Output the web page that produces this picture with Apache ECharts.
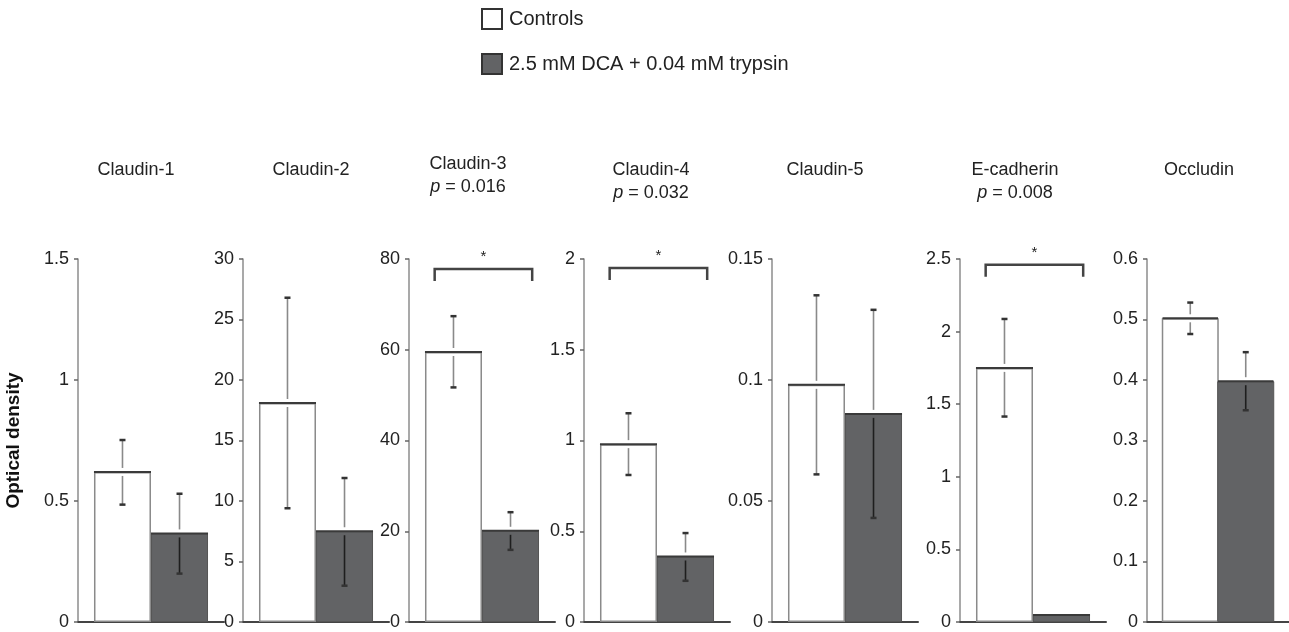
<!DOCTYPE html>
<html><head><meta charset="utf-8">
<script src="https://cdn.jsdelivr.net/npm/echarts@6/dist/echarts.min.js"></script>
<style>html,body{margin:0;padding:0;background:#fff}#c{width:1289px;height:632px}</style>
</head><body><div id="c"></div>
<script>
// ---- data ----
const categories = ['Claudin-1', 'Claudin-2', 'Claudin-3', 'Claudin-4', 'Claudin-5', 'E-cadherin', 'Occludin'];
const pValues = ['', '', '0.016', '0.032', '', '0.008', ''];
const seriesNames = ['Controls', '2.5 mM DCA + 0.04 mM trypsin'];
const controlMeans = [0.62, 18.1, 59.5, 0.98, 0.098, 1.75, 0.502];
const controlLow = [0.485, 9.4, 51.7, 0.81, 0.061, 1.415, 0.476];
const controlHigh = [0.752, 26.8, 67.4, 1.15, 0.135, 2.087, 0.528];
const treatMeans = [0.366, 7.5, 20.1, 0.361, 0.086, 0.048, 0.398];
const treatLow = [0.20, 3.0, 15.9, 0.227, 0.043, null, 0.35];
const treatHigh = [0.53, 11.9, 24.2, 0.49, 0.129, null, 0.446];
const yMax = [1.5, 30, 80, 2, 0.15, 2.5, 0.6];
const yInterval = [0.5, 5, 20, 0.5, 0.05, 0.5, 0.1];
const bracketLevel = [null, null, 77.8, 1.95, null, 2.46, null];

// ---- layout / style ----
const FONT = '"Liberation Sans", Arial, Helvetica, sans-serif';
const gridLeft = [78, 243, 409, 584, 772, 960, 1147];
const titleX = [136, 311, 468, 651, 825, 1015, 1199];
const titleY = [170, 170, 164, 170, 170, 170, 170];

function errRender(params, api) {
  const x = api.value(0), m = api.value(1), lo = api.value(2), hi = api.value(3);
  const pm = api.coord([x, m]);
  const l = api.coord([x - 0.5, m]), r = api.coord([x + 0.5, m]);
  const children = [{type: 'line', shape: {x1: l[0], y1: pm[1], x2: r[0], y2: pm[1]}, style: {stroke: '#3a3a3a', lineWidth: 2}}];
  if (lo != null && hi != null && !isNaN(lo) && !isNaN(hi)) {
    const ph = api.coord([x, hi]), pl = api.coord([x, lo]);
    const gap = 4;
    children.push({type: 'line', shape: {x1: ph[0], y1: ph[1], x2: ph[0], y2: pm[1] - gap}, style: {stroke: '#8a8a8a', lineWidth: 1.6}});
    children.push({type: 'line', shape: {x1: pl[0], y1: pm[1] + gap, x2: pl[0], y2: pl[1]}, style: {stroke: x < 0.5 ? '#8a8a8a' : '#1e1e1e', lineWidth: 1.6}});
    children.push({type: 'line', shape: {x1: ph[0] - 3, y1: ph[1], x2: ph[0] + 3, y2: ph[1]}, style: {stroke: '#333', lineWidth: 2.5}});
    children.push({type: 'line', shape: {x1: pl[0] - 3, y1: pl[1], x2: pl[0] + 3, y2: pl[1]}, style: {stroke: '#333', lineWidth: 2.5}});
  }
  return {type: 'group', children};
}

function bracketRender(params, api) {
  const y = api.value(1);
  const a = api.coord([-0.33, y]), b = api.coord([1.38, y]);
  const drop = 12;
  return {type: 'group', children: [
    {type: 'polyline', shape: {points: [[a[0], a[1] + drop], [a[0], a[1]], [b[0], b[1]], [b[0], b[1] + drop]]},
     style: {stroke: '#444', lineWidth: 2.5, fill: null}},
    {type: 'text', x: (a[0] + b[0]) / 2, y: a[1] - 12,
     style: {text: '*', fontSize: 15, fontFamily: FONT, fill: '#222', align: 'center', verticalAlign: 'middle'}}
  ]};
}

const grids = [], xAxes = [], yAxes = [], series = [], graphics = [];
categories.forEach((name, i) => {
  grids.push({left: gridLeft[i], top: 259, width: 146, height: 363});
  xAxes.push({type: 'value', gridIndex: i, min: -0.78, max: 1.78,
    axisLine: {show: true, onZero: false, lineStyle: {color: '#444', width: 2}},
    axisTick: {show: false}, axisLabel: {show: false}, splitLine: {show: false}});
  yAxes.push({type: 'value', gridIndex: i, min: 0, max: yMax[i], interval: yInterval[i],
    axisLine: {show: true, onZero: false, lineStyle: {color: '#8c8c8c', width: 1.5}},
    axisTick: {show: true, length: 4, lineStyle: {color: '#666', width: 1.5}},
    axisLabel: {fontSize: 18, color: '#222', margin: 9, fontFamily: FONT},
    splitLine: {show: false},
    name: i === 0 ? 'Optical density' : '', nameLocation: 'middle', nameRotate: 90, nameGap: 55,
    nameTextStyle: {fontSize: 19, fontWeight: 'bold', color: '#111', fontFamily: FONT}});
  series.push({type: 'bar', name: seriesNames[0], xAxisIndex: i, yAxisIndex: i, barWidth: 57, barGap: '-100%',
    data: [[0, controlMeans[i]]], itemStyle: {color: '#ffffff', borderColor: '#8a8a8a', borderWidth: 1.5}, z: 2, silent: true});
  series.push({type: 'bar', name: seriesNames[1], xAxisIndex: i, yAxisIndex: i, barWidth: 57, barGap: '-100%',
    data: [[1, treatMeans[i]]], itemStyle: {color: '#626365', borderColor: '#555', borderWidth: 1}, z: 2, silent: true});
  series.push({type: 'custom', xAxisIndex: i, yAxisIndex: i, clip: false, z: 5, silent: true,
    data: [[0, controlMeans[i], controlLow[i], controlHigh[i]], [1, treatMeans[i], treatLow[i] == null ? '-' : treatLow[i], treatHigh[i] == null ? '-' : treatHigh[i]]],
    encode: {x: 0, y: 1}, renderItem: errRender});
  if (bracketLevel[i] != null) {
    series.push({type: 'custom', xAxisIndex: i, yAxisIndex: i, clip: false, z: 5, silent: true,
      data: [[0.5, bracketLevel[i]]], encode: {x: 0, y: 1}, renderItem: bracketRender});
  }
  graphics.push({type: 'text', x: titleX[i], y: titleY[i],
    style: {text: name, fontSize: 18, fontFamily: FONT, fill: '#222', textAlign: 'center', textVerticalAlign: 'middle'}});
  if (pValues[i]) {
    graphics.push({type: 'text', x: titleX[i], y: titleY[i] + 23,
      style: {text: '{i|p} = ' + pValues[i], fontSize: 18, fontFamily: FONT, fill: '#222', textAlign: 'center', textVerticalAlign: 'middle',
        rich: {i: {fontStyle: 'italic', fontSize: 18, fontFamily: FONT, fill: '#222'}}}});
  }
});

const chart = echarts.init(document.getElementById('c'));
chart.setOption({
  backgroundColor: '#ffffff',
  animation: false,
  legend: {orient: 'vertical', left: 481, top: 8, padding: 0, itemWidth: 20, itemHeight: 20, itemGap: 23,
    textStyle: {fontSize: 20, color: '#222', fontFamily: FONT, padding: [0, 0, 0, 2]},
    selectedMode: false,
    data: [
      {name: seriesNames[0], icon: 'rect', itemStyle: {color: '#ffffff', borderColor: '#333', borderWidth: 2}},
      {name: seriesNames[1], icon: 'rect', itemStyle: {color: '#626365', borderColor: '#333', borderWidth: 2}}
    ]},
  grid: grids, xAxis: xAxes, yAxis: yAxes, series: series,
  graphic: {elements: graphics}
});
</script></body></html>
